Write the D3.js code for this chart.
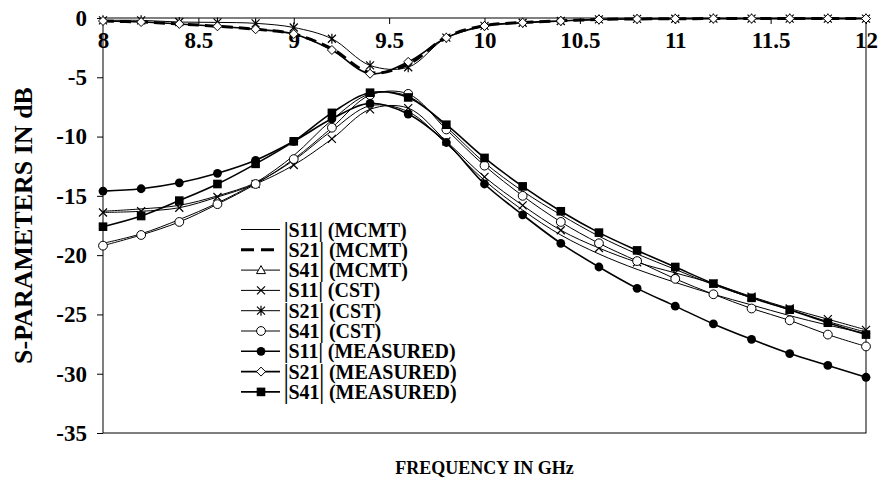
<!DOCTYPE html>
<html>
<head>
<meta charset="utf-8">
<title>S-parameters</title>
<style>
  body { margin: 0; background: #fff; }
  svg text { font-family: "Liberation Serif", "Times New Roman", serif; font-weight: bold; fill: #000; }
</style>
</head>
<body>
<svg width="880" height="484"></svg>
<script src="https://cdnjs.cloudflare.com/ajax/libs/d3/7.8.5/d3.min.js"></script>
<script>

// frequencies in GHz (one sample every 0.2 GHz)
var freq = [8.0, 8.2, 8.4, 8.6, 8.8, 9.0, 9.2, 9.4, 9.6, 9.8, 10.0,
            10.2, 10.4, 10.6, 10.8, 11.0, 11.2, 11.4, 11.6, 11.8, 12.0];

// MCMT model
var s11Mcmt = [-16.3, -16.1, -15.8, -15.0, -13.9, -12.0, -9.5, -7.4, -7.9, -10.6, -13.7,
               -16.2, -18.3, -19.9, -21.2, -22.3, -23.3, -24.2, -25.1, -25.9, -26.6];
var s21Mcmt = [-0.25, -0.34, -0.5, -0.7, -0.95, -1.35, -2.6, -4.6, -3.9, -1.6, -0.65,
               -0.38, -0.24, -0.12, -0.08, -0.06, -0.05, -0.05, -0.05, -0.05, -0.05];
var s41Mcmt = [-19.0, -18.2, -17.0, -15.6, -13.9, -11.6, -8.6, -6.4, -6.6, -9.2, -12.2,
               -14.6, -16.6, -18.4, -19.9, -21.2, -22.5, -23.6, -24.6, -25.6, -26.5];

// CST simulation
var s11Cst = [-16.4, -16.3, -16.0, -15.1, -14.0, -12.4, -10.2, -7.7, -7.6, -10.4, -13.4,
              -15.8, -17.9, -19.4, -20.6, -21.5, -22.4, -23.5, -24.5, -25.4, -26.3];
var s21Cst = [-0.2, -0.2, -0.34, -0.37, -0.45, -0.8, -1.75, -4.0, -4.15, -1.66, -0.67,
              -0.4, -0.25, -0.12, -0.08, -0.06, -0.05, -0.05, -0.05, -0.05, -0.05];
var s41Cst = [-19.2, -18.3, -17.2, -15.7, -14.0, -11.9, -9.25, -6.5, -6.4, -9.4, -12.45,
              -15.0, -17.2, -19.0, -20.5, -22.0, -23.3, -24.5, -25.5, -26.7, -27.7];

// measured
var s11Meas = [-14.6, -14.4, -13.9, -13.1, -12.0, -10.4, -8.5, -7.2, -8.1, -10.5, -14.0,
               -16.6, -19.0, -21.0, -22.8, -24.3, -25.8, -27.1, -28.3, -29.3, -30.3];
var s21Meas = [-0.25, -0.34, -0.5, -0.7, -0.95, -1.35, -2.7, -4.7, -3.7, -1.66, -0.67,
               -0.4, -0.25, -0.12, -0.08, -0.06, -0.05, -0.05, -0.05, -0.05, -0.05];
var s41Meas = [-17.6, -16.7, -15.4, -14.0, -12.3, -10.4, -8.0, -6.3, -6.7, -9.0, -11.8,
               -14.2, -16.3, -18.1, -19.6, -21.0, -22.4, -23.6, -24.6, -25.7, -26.7];

var xTicks = [8, 8.5, 9, 9.5, 10, 10.5, 11, 11.5, 12];
var yTicks = [0, -5, -10, -15, -20, -25, -30, -35];

// series list: name, values, marker, line style
var series = [
  { name: "|S11| (MCMT)", values: s11Mcmt, marker: "none", width: 1, dash: null, showMarks: false },
  { name: "|S21| (MCMT)", values: s21Mcmt, marker: "none", width: 3, dash: "11,6", showMarks: false },
  { name: "|S41| (MCMT)", values: s41Mcmt, marker: "triangle", width: 1, dash: null, showMarks: false },
  { name: "|S11| (CST)", values: s11Cst, marker: "cross", width: 1, dash: null, showMarks: true },
  { name: "|S21| (CST)", values: s21Cst, marker: "star", width: 1, dash: null, showMarks: true },
  { name: "|S41| (CST)", values: s41Cst, marker: "circleOpen", width: 1, dash: null, showMarks: true },
  { name: "|S11| (MEASURED)", values: s11Meas, marker: "circle", width: 1.6, dash: null, showMarks: true },
  { name: "|S21| (MEASURED)", values: s21Meas, marker: "diamond", width: 1.6, dash: null, showMarks: true },
  { name: "|S41| (MEASURED)", values: s41Meas, marker: "square", width: 1.6, dash: null, showMarks: true }
];

var svg = d3.select("svg");
var plotLeft = 103, plotRight = 866, plotTop = 18, plotBottom = 433;

var x = d3.scaleLinear().domain([8, 12]).range([plotLeft, plotRight]);
var y = d3.scaleLinear().domain([-35, 0]).range([plotBottom, plotTop]);

// plot frame
svg.append("rect")
    .attr("x", plotLeft).attr("y", plotTop)
    .attr("width", plotRight - plotLeft).attr("height", plotBottom - plotTop)
    .attr("fill", "none").attr("stroke", "#000").attr("stroke-width", 1);

// x axis sits on the 0 dB line, ticks and labels hang into the plot
var xAxis = svg.append("g")
    .attr("transform", "translate(0," + plotTop + ")")
    .call(d3.axisBottom(x).tickValues(xTicks).tickSize(6).tickPadding(8)
      .tickFormat(function(d) { return String(d); }));
xAxis.select(".domain").remove();
xAxis.selectAll("text").style("font-size", "23px");

var yAxis = svg.append("g")
    .attr("transform", "translate(" + plotLeft + ",0)")
    .call(d3.axisLeft(y).tickValues(yTicks).tickSize(6).tickPadding(10)
      .tickFormat(function(d) { return String(d); }));
yAxis.select(".domain").remove();
yAxis.selectAll("text").style("font-size", "23px");

// axis titles
svg.append("text")
    .attr("x", (plotLeft + plotRight) / 2)
    .attr("y", 474)
    .attr("text-anchor", "middle")
    .style("font-size", "18px")
    .text("FREQUENCY IN GHz");

svg.append("text")
    .attr("transform", "translate(32," + ((plotTop + plotBottom) / 2) + ") rotate(-90)")
    .attr("text-anchor", "middle")
    .style("font-size", "26px")
    .text("S-PARAMETERS IN dB");

var line = d3.line()
    .x(function(d) { return x(d[0]); })
    .y(function(d) { return y(d[1]); })
    .curve(d3.curveCatmullRom.alpha(0.5));

// draw one marker of a given kind at (cx, cy)
function drawMarker(g, kind, cx, cy) {
  if (kind === "circle") {
    g.append("circle").attr("cx", cx).attr("cy", cy).attr("r", 4.4).attr("fill", "#000");
  } else if (kind === "circleOpen") {
    g.append("circle").attr("cx", cx).attr("cy", cy).attr("r", 4.4)
      .attr("fill", "#fff").attr("stroke", "#000").attr("stroke-width", 1);
  } else if (kind === "square") {
    g.append("rect").attr("x", cx - 4.3).attr("y", cy - 4.3).attr("width", 8.6).attr("height", 8.6).attr("fill", "#000");
  } else if (kind === "diamond") {
    g.append("path")
      .attr("d", "M" + cx + "," + (cy - 4.5) + "L" + (cx + 4.5) + "," + cy + "L" + cx + "," + (cy + 4.5) + "L" + (cx - 4.5) + "," + cy + "Z")
      .attr("fill", "#fff").attr("stroke", "#000").attr("stroke-width", 1);
  } else if (kind === "triangle") {
    g.append("path")
      .attr("d", "M" + cx + "," + (cy - 4.5) + "L" + (cx + 4.5) + "," + (cy + 3.5) + "L" + (cx - 4.5) + "," + (cy + 3.5) + "Z")
      .attr("fill", "#fff").attr("stroke", "#000").attr("stroke-width", 1);
  } else if (kind === "cross") {
    g.append("path")
      .attr("d", "M" + (cx - 4) + "," + (cy - 4) + "L" + (cx + 4) + "," + (cy + 4) + "M" + (cx + 4) + "," + (cy - 4) + "L" + (cx - 4) + "," + (cy + 4))
      .attr("stroke", "#000").attr("stroke-width", 1.2);
  } else if (kind === "star") {
    g.append("path")
      .attr("d", "M" + (cx - 4) + "," + (cy - 4) + "L" + (cx + 4) + "," + (cy + 4) + "M" + (cx + 4) + "," + (cy - 4) + "L" + (cx - 4) + "," + (cy + 4) +
                 "M" + cx + "," + (cy - 5) + "L" + cx + "," + (cy + 5))
      .attr("stroke", "#000").attr("stroke-width", 1.2);
  }
}

var plot = svg.append("g");

series.forEach(function(s) {
  var pts = freq.map(function(f, i) { return [f, s.values[i]]; });
  plot.append("path")
      .datum(pts)
      .attr("d", line)
      .attr("fill", "none")
      .attr("stroke", "#000")
      .attr("stroke-width", s.width)
      .attr("stroke-dasharray", s.dash);
});

series.forEach(function(s) {
  if (!s.showMarks) return;
  var g = plot.append("g");
  freq.forEach(function(f, i) { drawMarker(g, s.marker, x(f), y(s.values[i])); });
});

// legend
var legend = svg.append("g");
series.forEach(function(s, i) {
  var ly = 229.5 + i * 20.3;
  legend.append("line")
      .attr("x1", 241).attr("x2", 280)
      .attr("y1", ly).attr("y2", ly)
      .attr("stroke", "#000")
      .attr("stroke-width", s.width)
      .attr("stroke-dasharray", s.dash ? "13,7" : null);
  drawMarker(legend, s.marker, 261, ly);
  legend.append("text")
      .attr("x", 284).attr("y", ly)
      .attr("dy", "0.35em")
      .style("font-size", "20px")
      .text(s.name);
});

</script>
</body>
</html>
